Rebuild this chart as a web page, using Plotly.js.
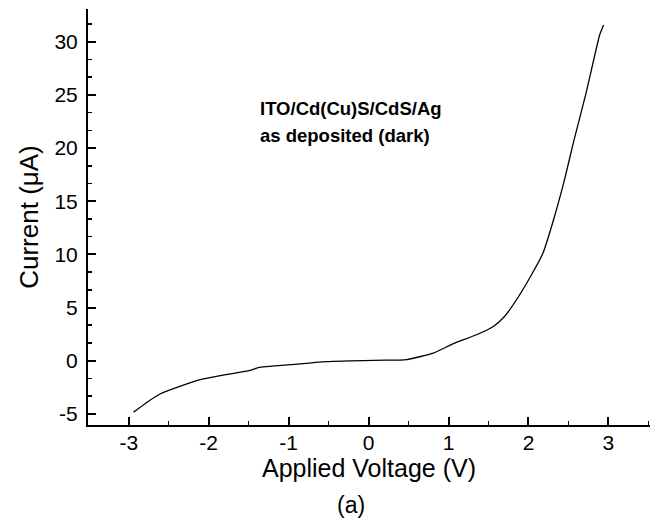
<!DOCTYPE html>
<html>
<head>
<meta charset="utf-8">
<script src="https://cdn.plot.ly/plotly-3.0.1.min.js"></script>
<style>
html,body{margin:0;padding:0;background:#fff;}
#chart{width:657px;height:520px;}
</style>
</head>
<body>
<div id="chart"></div>
<script>
// Data
var voltage = [-2.94, -2.78, -2.61, -2.11, -1.50, -1.38, -0.98, -0.53, 0.06, 0.39, 0.47, 0.81, 1.06, 1.35, 1.56, 1.70, 1.85, 2.02, 2.18, 2.30, 2.45, 2.56, 2.72, 2.89, 2.94];
var current = [-4.84, -3.95, -3.13, -1.79, -0.94, -0.66, -0.38, -0.09, 0.03, 0.06, 0.09, 0.72, 1.60, 2.44, 3.22, 4.16, 5.73, 7.85, 10.10, 12.90, 17.00, 20.46, 25.16, 30.64, 31.58];

var xTickVals = [-3, -2, -1, 0, 1, 2, 3];
var xTickText = ["-3", "-2", "-1", "0", "1", "2", "3"];
var yTickVals = [-5, 0, 5, 10, 15, 20, 25, 30];
var yTickText = ["-5", "0", "5", "10", "15", "20", "25", "30"];

var xTitle = "Applied Voltage (V)";
var yTitle = "Current (\u03bcA)";
var noteLines = ["ITO/Cd(Cu)S/CdS/Ag", "as deposited (dark)"];
var panelLabel = "(a)";

var fontFam = "Liberation Sans, Arial, Helvetica, sans-serif";

var trace = {
  x: voltage,
  y: current,
  type: "scatter",
  mode: "lines",
  line: {color: "#000", width: 1.3, shape: "spline", smoothing: 0.5},
  hoverinfo: "skip"
};

var layout = {
  width: 657,
  height: 520,
  margin: {l: 88, r: 7, t: 9, b: 95, pad: 0},
  paper_bgcolor: "#fff",
  plot_bgcolor: "#fff",
  showlegend: false,
  font: {family: fontFam, color: "#000"},
  xaxis: {
    range: [-3.51, 3.52],
    tickmode: "array",
    tickvals: xTickVals,
    ticktext: xTickText,
    ticks: "inside",
    ticklen: 8,
    tickwidth: 2,
    tickcolor: "#000",
    showline: true,
    linecolor: "#000",
    linewidth: 2,
    showgrid: false,
    zeroline: false,
    tickfont: {family: fontFam, size: 21, color: "#000"},
    ticklabelstandoff: -2,
    minor: {dtick: 0.5, tick0: 0, ticks: "inside", ticklen: 4, tickwidth: 1.5, tickcolor: "#000", showgrid: false},
    title: {text: xTitle, font: {family: fontFam, size: 25, color: "#000"}, standoff: 4},
    automargin: false
  },
  yaxis: {
    range: [-6.05, 33.08],
    tickmode: "array",
    tickvals: yTickVals,
    ticktext: yTickText,
    ticks: "inside",
    ticklen: 8,
    tickwidth: 2,
    tickcolor: "#000",
    showline: true,
    linecolor: "#000",
    linewidth: 2,
    showgrid: false,
    zeroline: false,
    tickfont: {family: fontFam, size: 21, color: "#000"},
    ticklabelstandoff: 4,
    minor: {dtick: 5/3, tick0: 0, ticks: "inside", ticklen: 4, tickwidth: 1.5, tickcolor: "#000", showgrid: false},
    title: {text: yTitle, font: {family: fontFam, size: 26, color: "#000"}, standoff: 8},
    automargin: false
  },
  annotations: [
    {xref: "paper", yref: "paper", x: 0.3025, y: 0.762, xanchor: "left", yanchor: "middle",
     text: "<b>" + noteLines[0] + "</b>", showarrow: false, font: {family: fontFam, size: 18.5, color: "#000"}},
    {xref: "paper", yref: "paper", x: 0.3025, y: 0.695, xanchor: "left", yanchor: "middle",
     text: "<b>" + noteLines[1] + "</b>", showarrow: false, font: {family: fontFam, size: 18.5, color: "#000"}},
    {xref: "paper", yref: "paper", x: (351 - 88) / 562, y: -(505 - 425) / 416, xanchor: "center", yanchor: "middle",
     text: panelLabel, showarrow: false, font: {family: fontFam, size: 23, color: "#000"}}
  ]
};

Plotly.newPlot("chart", [trace], layout, {displayModeBar: false, staticPlot: true});
</script>
</body>
</html>
